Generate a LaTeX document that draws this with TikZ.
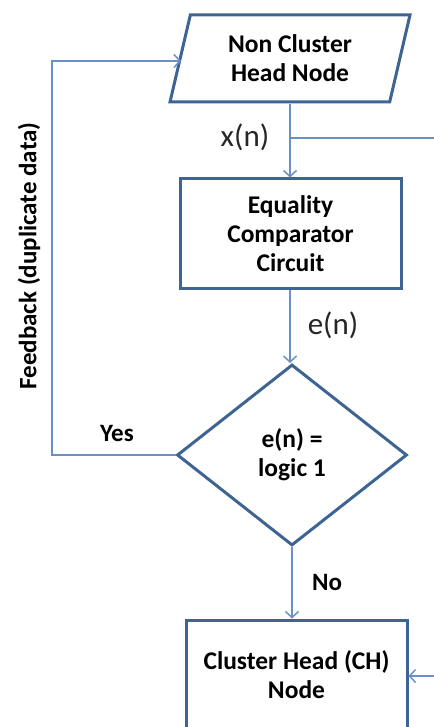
\documentclass[tikz,border=0pt]{standalone}
\usepackage{fontspec}
\setmainfont{Carlito}
\usetikzlibrary{shapes.geometric,arrows.meta}
\definecolor{bord}{RGB}{62,100,148}
\definecolor{conn}{RGB}{105,145,200}
\tikzset{
  boxtext/.style={font=\fontsize{25.5}{29}\selectfont\bfseries, align=center, text=black},
  shapeline/.style={draw=bord, line width=3pt},
  conline/.style={draw=conn, line width=2pt},
  arr/.style={conline, -{Straight Barb[length=6pt,width=13pt,line width=1.5pt]}},
  lbl/.style={font=\fontsize{25}{28}\selectfont\bfseries, text=black},
  sig/.style={font=\fontsize{31}{34}\selectfont, text=black!85}
}
\begin{document}
\begin{tikzpicture}[x=1pt,y=-1pt]
\useasboundingbox (0,0) rectangle (433,727);
\node[shapeline, boxtext, trapezium, trapezium left angle=75, trapezium right angle=105,
      trapezium stretches=true, minimum width=240pt, minimum height=87pt, inner sep=0pt]
      (nch) at (290,58.5) {Non Cluster\\Head Node};
\node[shapeline, boxtext, rectangle, minimum width=221pt, minimum height=109pt, inner sep=0pt]
      (eq) at (290.5,233.5) {Equality\\Comparator\\Circuit};
\node[shapeline, boxtext, diamond, minimum width=230pt, minimum height=181pt, inner sep=0pt]
      (dec) at (292,455) {e(n) =\\logic 1};
\node[shapeline, boxtext, rectangle, minimum width=221pt, minimum height=110pt, inner sep=0pt]
      (ch) at (296.5,675) {Cluster Head (CH)\\Node};

\coordinate (fbl) at (52,455);
\coordinate (fbt) at (52,61);
\coordinate (fbe) at (181,61);
\coordinate (xs) at (290,138);
\coordinate (xe) at (440,138);
\coordinate (ins) at (440,676);

\draw[arr] (nch.south -| 290,0) -- (eq.north -| 290,0);
\draw[conline] (xs) -- (xe);
\draw[arr] (eq.south -| 290,0) -- (dec.north -| 290,0);
\draw[arr] (dec.south -| 292,0) -- (ch.north -| 292,0);
\draw[arr] (dec.west) -- (fbl) -- (fbt) -- (fbe);
\draw[arr] (ins) -- (ch.east |- ins);

\node[sig] (xn) at (245,137) {x(n)};
\node[sig] (en) at (333,325) {e(n)};
\node[lbl] (yes) at (117,433) {Yes};
\node[lbl] (no) at (327,582) {No};
\node[lbl, rotate=90] (fb) at (29,256) {Feedback (duplicate data)};
\end{tikzpicture}
\end{document}
